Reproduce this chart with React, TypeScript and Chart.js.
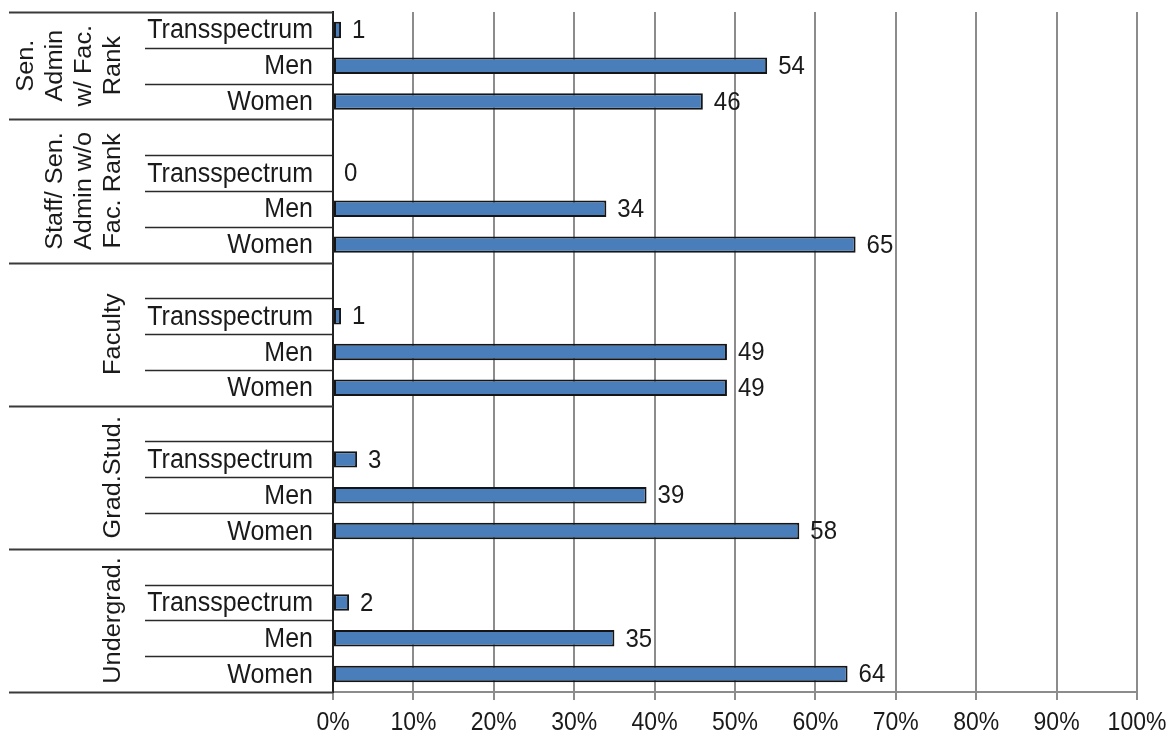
import { useEffect, useRef } from "react";
import { Chart, registerables } from "chart.js";

Chart.register(...registerables);

// Respondent groups (multi-line, drawn rotated on the left)
const groupNames: string[][] = [
  ["Sen.", "Admin", "w/ Fac.", "Rank"],
  ["Staff/ Sen.", "Admin w/o", "Fac. Rank"],
  ["Faculty"],
  ["Grad.Stud."],
  ["Undergrad."],
];

// Gender categories within each group
const genderLabels = ["Transspectrum", "Men", "Women"];

// Percent of each group, per gender category
const transValues = [1, 0, 1, 3, 2];
const menValues = [54, 34, 49, 39, 35];
const womenValues = [46, 65, 49, 58, 64];

// Percent axis ticks
const xTickValues = [0, 10, 20, 30, 40, 50, 60, 70, 80, 90, 100];

const FONT = "'Liberation Sans', Arial, sans-serif";
const TEXT_STRETCH = 1.1; // slightly tall lettering
const TEXT_COLOR = "#1a1a1a";

// Flatten into rows: every group after the first starts with an empty spacer row
const rowLabels: string[] = [];
const rowValues: (number | null)[] = [];
const groupSpans: { start: number; end: number }[] = [];
groupNames.forEach((_, g) => {
  const start = rowLabels.length;
  if (g > 0) {
    rowLabels.push("");
    rowValues.push(null);
  }
  const vals = [transValues[g], menValues[g], womenValues[g]];
  genderLabels.forEach((lab, i) => {
    rowLabels.push(lab);
    rowValues.push(vals[i]);
  });
  groupSpans.push({ start, end: rowLabels.length });
});

function tallText(ctx: CanvasRenderingContext2D, text: string, x: number, y: number) {
  ctx.save();
  ctx.translate(x, y);
  ctx.scale(1, TEXT_STRETCH);
  ctx.fillText(text, 0, 0);
  ctx.restore();
}

// Row separators, row names and rotated group names in the left label column,
// plus the percent labels under the axis
const axisTextPlugin = {
  id: "axisText",
  afterDraw(chart: any) {
    const { ctx } = chart;
    const y = chart.scales.y;
    const x = chart.scales.x;
    const n = rowLabels.length;
    const half = (y.getPixelForValue(1) - y.getPixelForValue(0)) / 2;
    const edge = (k: number) =>
      k < n ? y.getPixelForValue(k) - half : y.getPixelForValue(n - 1) + half;
    const axisX = chart.chartArea.left;
    const groupEdges = new Set<number>();
    groupSpans.forEach((s) => {
      groupEdges.add(s.start);
      groupEdges.add(s.end);
    });

    ctx.save();
    for (let k = 0; k <= n; k++) {
      const py = Math.round(edge(k)) + 0.5;
      const long = groupEdges.has(k);
      ctx.beginPath();
      ctx.strokeStyle = long ? "#3a3a3a" : "#2a2a2a";
      ctx.lineWidth = long ? 2 : 1.5;
      ctx.moveTo(long ? 9 : 145, py);
      ctx.lineTo(axisX, py);
      ctx.stroke();
    }

    ctx.fillStyle = TEXT_COLOR;

    // row names
    ctx.font = `25px ${FONT}`;
    ctx.textAlign = "right";
    ctx.textBaseline = "middle";
    rowLabels.forEach((lab, i) => {
      if (!lab) return;
      tallText(ctx, lab, axisX - 20, y.getPixelForValue(i) + 1);
    });

    // group names, rotated
    ctx.font = `23px ${FONT}`;
    ctx.textAlign = "center";
    ctx.textBaseline = "alphabetic";
    const lastBaseline = 120;
    const lineGap = 29;
    groupSpans.forEach((s, g) => {
      const cy = (edge(s.start) + edge(s.end)) / 2;
      const lines = groupNames[g];
      ctx.save();
      ctx.translate(lastBaseline, cy);
      ctx.rotate(-Math.PI / 2);
      ctx.scale(TEXT_STRETCH, 1);
      lines.forEach((line, i) => {
        ctx.fillText(line, 0, -(lines.length - 1 - i) * lineGap);
      });
      ctx.restore();
    });

    // percent tick labels
    ctx.font = `23px ${FONT}`;
    ctx.textAlign = "center";
    ctx.textBaseline = "middle";
    const labelY = chart.chartArea.bottom + 31;
    xTickValues.forEach((v) => {
      tallText(ctx, `${v}%`, x.getPixelForValue(v), labelY);
    });
    ctx.restore();
  },
};

// Value labels to the right of each bar
const valueLabelsPlugin = {
  id: "valueLabels",
  afterDatasetsDraw(chart: any) {
    const { ctx } = chart;
    const meta = chart.getDatasetMeta(0);
    ctx.save();
    ctx.fillStyle = TEXT_COLOR;
    ctx.font = `24px ${FONT}`;
    ctx.textAlign = "left";
    ctx.textBaseline = "middle";
    meta.data.forEach((el: any, i: number) => {
      const v = rowValues[i];
      if (v === null || v === undefined) return;
      tallText(ctx, String(v), el.x + 11, el.y + 1);
    });
    ctx.restore();
  },
};

export default function App() {
  const canvasRef = useRef<HTMLCanvasElement | null>(null);

  useEffect(() => {
    if (!canvasRef.current) return;
    const chart = new Chart(canvasRef.current, {
      type: "bar",
      data: {
        labels: rowLabels,
        datasets: [
          {
            data: rowValues,
            backgroundColor: "#4a7ebb",
            borderColor: "#151515",
            borderWidth: 2,
            borderSkipped: false,
            barPercentage: 0.46,
            categoryPercentage: 1,
          },
        ],
      },
      options: {
        indexAxis: "y",
        responsive: false,
        animation: false,
        events: [],
        layout: { padding: { top: 12, right: 36, bottom: 0, left: 0 } },
        plugins: {
          legend: { display: false },
          tooltip: { enabled: false },
          title: { display: false },
        },
        scales: {
          x: {
            type: "linear",
            position: "bottom",
            min: 0,
            max: 100,
            afterBuildTicks: (scale: any) => {
              scale.ticks = xTickValues.map((v) => ({ value: v }));
            },
            afterFit: (scale: any) => {
              scale.height = 46;
              scale.paddingLeft = 0;
              scale.paddingRight = 0;
              scale.paddingTop = 0;
              scale.paddingBottom = 0;
            },
            ticks: { display: false, autoSkip: false },
            grid: {
              color: "#8c8c8c",
              lineWidth: 2,
              drawTicks: true,
              tickLength: 8,
            },
            border: { display: true, color: "#8c8c8c", width: 2 },
          },
          y: {
            type: "category",
            afterFit: (scale: any) => {
              scale.width = 333;
              scale.paddingLeft = 0;
              scale.paddingRight = 0;
              scale.paddingTop = 0;
              scale.paddingBottom = 0;
            },
            ticks: { display: false, autoSkip: false },
            grid: { display: false, drawTicks: false },
            border: { display: true, color: "#222", width: 2 },
          },
        },
      },
      plugins: [axisTextPlugin, valueLabelsPlugin],
    });
    return () => chart.destroy();
  }, []);

  return (
    <canvas
      ref={canvasRef}
      width={1173}
      height={738}
      style={{ position: "fixed", left: 0, top: 0, display: "block", background: "#fff" }}
    />
  );
}
